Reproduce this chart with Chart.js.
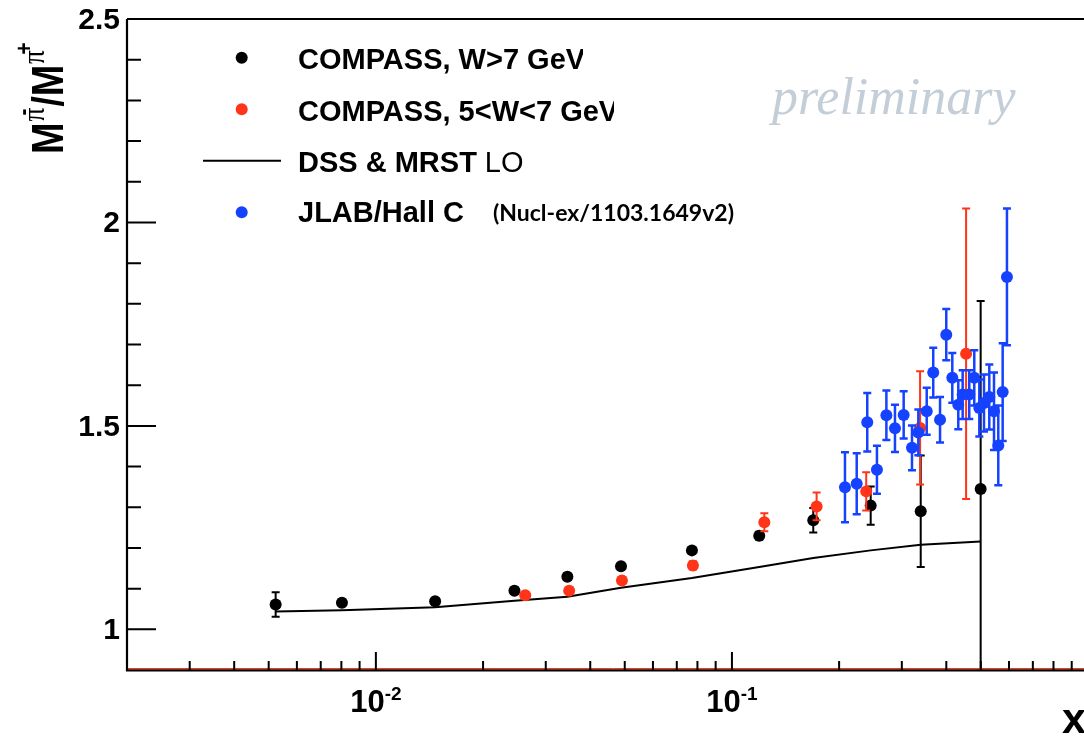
<!DOCTYPE html>
<html lang="en">
<head>
  <meta charset="UTF-8">
  <title>M pi- / M pi+ ratio</title>
  <style>
    html, body { margin: 0; padding: 0; background: #ffffff; overflow: hidden; }
    /* a bit wider than the window: the right edge of the frame is cut off like in the original */
    .quadro { position: relative; width: 1100px; height: 741px; }
  </style>
</head>
<body>
  <div class="quadro">
    <canvas id="grafico"></canvas>
  </div>

<script src="https://cdn.jsdelivr.net/npm/chart.js"></script>
<script>
  // COMPASS, W > 7 GeV
  const xBlack = [0.00523, 0.00803, 0.01467, 0.0245, 0.0345, 0.0488, 0.0772, 0.1193, 0.1692, 0.2453, 0.339, 0.4995];
  const yBlack = [1.061, 1.065, 1.069, 1.095, 1.129, 1.155, 1.194, 1.230, 1.268, 1.304, 1.290, 1.345];
  const eBlack = [0.030, 0.008, 0.008, 0.008, 0.008, 0.008, 0.008, 0.010, 0.030, 0.047, 0.137, 0.462];

  // COMPASS, 5 < W < 7 GeV
  const xRed = [0.02627, 0.0349, 0.0491, 0.0777, 0.1233, 0.1729, 0.2383, 0.3376, 0.4546];
  const yRed = [1.084, 1.095, 1.120, 1.157, 1.263, 1.302, 1.339, 1.495, 1.677];
  const eRed = [0.008, 0.008, 0.008, 0.010, 0.022, 0.034, 0.047, 0.139, 0.357];

  // JLAB / Hall C
  const xBlue = [0.2077, 0.2241, 0.2399, 0.2554, 0.2715, 0.2870, 0.3036, 0.3204, 0.3338, 0.3524, 0.3676, 0.3841, 0.3999,
                 0.4158, 0.4322, 0.4446, 0.4640, 0.4793, 0.4952, 0.5104, 0.5282, 0.5445, 0.5598, 0.5759, 0.5921];
  const yBlue = [1.349, 1.358, 1.509, 1.392, 1.526, 1.494, 1.527, 1.446, 1.484, 1.536, 1.631, 1.515, 1.724,
                 1.618, 1.552, 1.577, 1.577, 1.618, 1.544, 1.556, 1.571, 1.536, 1.452, 1.583, 1.866];
  const eBlue = [0.086, 0.075, 0.072, 0.059, 0.061, 0.058, 0.058, 0.055, 0.056, 0.058, 0.061, 0.056, 0.063,
                 0.061, 0.060, 0.060, 0.060, 0.068, 0.070, 0.070, 0.080, 0.095, 0.098, 0.120, 0.168];

  // DSS & MRST LO curve
  const xCurve = [0.00523, 0.00803, 0.01467, 0.0245, 0.0345, 0.0488, 0.0772, 0.1193, 0.1692, 0.2453, 0.339, 0.4995];
  const yCurve = [1.044, 1.047, 1.054, 1.070, 1.080, 1.102, 1.126, 1.153, 1.175, 1.194, 1.208, 1.216];

  // eixos
  const yMajor = [1, 1.5, 2, 2.5];
  const yMajorLabels = ['1', '1.5', '2', '2.5'];
  const xMajor = [0.01, 0.1];
  const xMajorExp = ['-2', '-1'];

  const legendLabels = ['COMPASS, W>7 GeV', 'COMPASS, 5<W<7 GeV', 'DSS & MRST', 'JLAB/Hall C'];

  const corPreto = '#000000';
  const corVermelho = '#ff3419';
  const corAzul = '#1442ff';

  function pontos(xs, ys) {
    return xs.map((x, i) => ({ x: x, y: ys[i] }));
  }

  // barras de erro desenhadas antes dos pontos de cada dataset
  const errorBars = {
    id: 'errorBars',
    beforeDatasetDraw(chart, args) {
      const ds = chart.data.datasets[args.index];
      if (!ds.errY) return;
      const ctx = chart.ctx;
      const xs = chart.scales.x, ys = chart.scales.y;
      const area = chart.chartArea;
      ctx.save();
      ctx.beginPath();
      ctx.rect(area.left, area.top, area.right - area.left, area.bottom - area.top);
      ctx.clip();
      ctx.strokeStyle = ds.backgroundColor;
      ctx.lineWidth = ds.errWidth || 2;
      ds.data.forEach((p, i) => {
        const e = ds.errY[i];
        const px = xs.getPixelForValue(p.x);
        const top = ys.getPixelForValue(p.y + e);
        const bot = ys.getPixelForValue(p.y - e);
        ctx.beginPath();
        ctx.moveTo(px, top); ctx.lineTo(px, bot);
        ctx.moveTo(px - 4, top); ctx.lineTo(px + 4, top);
        ctx.moveTo(px - 4, bot); ctx.lineTo(px + 4, bot);
        ctx.stroke();
      });
      ctx.restore();
    }
  };

  // moldura, ticks para dentro, rotulos, legenda e textos (estilo ROOT)
  const moldura = {
    id: 'moldura',
    afterDraw(chart) {
      const ctx = chart.ctx;
      const xs = chart.scales.x, ys = chart.scales.y;
      const a = chart.chartArea;
      const W = chart.width;
      ctx.save();

      // linhas do quadro
      ctx.strokeStyle = '#000';
      ctx.lineWidth = 2;
      ctx.beginPath();
      ctx.moveTo(a.left, a.top); ctx.lineTo(W, a.top);
      ctx.stroke();
      ctx.strokeStyle = corVermelho;
      ctx.lineWidth = 1;
      ctx.beginPath();
      ctx.moveTo(a.left, a.bottom - 1.5); ctx.lineTo(W, a.bottom - 1.5);
      ctx.stroke();
      ctx.strokeStyle = '#000';
      ctx.lineWidth = 2.2;
      ctx.beginPath();
      ctx.moveTo(a.left, a.bottom + 0.3); ctx.lineTo(W, a.bottom + 0.3);
      ctx.moveTo(a.left, a.top); ctx.lineTo(a.left, a.bottom + 1.4);
      ctx.stroke();

      // ticks eixo y
      ctx.lineWidth = 2;
      ctx.beginPath();
      for (let k = 10; k <= 24; k++) {
        const py = ys.getPixelForValue(k / 10);
        const len = (k % 5 === 0) ? 29 : 14;
        ctx.moveTo(a.left, py); ctx.lineTo(a.left + len, py);
      }
      // ticks eixo x (log)
      for (let d = -3; d <= 0; d++) {
        for (let m = 1; m <= 9; m++) {
          const v = m * Math.pow(10, d);
          if (v <= 0.002 || v > 1.0001) continue;
          const px = xs.getPixelForValue(v);
          const len = (m === 1) ? 18 : 9;
          ctx.moveTo(px, a.bottom); ctx.lineTo(px, a.bottom - len);
        }
      }
      ctx.stroke();

      // rotulos y
      ctx.fillStyle = '#000';
      ctx.font = 'bold 30px "Liberation Sans", Arial, sans-serif';
      ctx.textAlign = 'right';
      ctx.textBaseline = 'middle';
      yMajor.forEach((v, i) => {
        ctx.fillText(yMajorLabels[i], 120, ys.getPixelForValue(v) + 1.5);
      });

      // rotulos x: 10^n
      ctx.textAlign = 'left';
      ctx.textBaseline = 'alphabetic';
      xMajor.forEach((v, i) => {
        const px = xs.getPixelForValue(v);
        ctx.font = 'bold 31px "Liberation Sans", Arial, sans-serif';
        const w10 = ctx.measureText('10').width;
        ctx.font = 'bold 19px "Liberation Sans", Arial, sans-serif';
        const wExp = ctx.measureText(xMajorExp[i]).width;
        const x0 = px - (w10 + wExp) / 2;
        ctx.font = 'bold 31px "Liberation Sans", Arial, sans-serif';
        ctx.fillText('10', x0, 712);
        ctx.font = 'bold 19px "Liberation Sans", Arial, sans-serif';
        ctx.fillText(xMajorExp[i], x0 + w10, 700);
      });

      // titulo eixo x
      ctx.font = 'bold 43px "Liberation Sans", Arial, sans-serif';
      ctx.fillText('x', 1062, 733);

      // titulo eixo y: M^{pi-}/M^{pi+}
      ctx.save();
      ctx.translate(63, 154);
      ctx.rotate(-Math.PI / 2);
      ctx.scale(0.86, 1);
      let u = 0;
      const pedaco = (txt, font, dy) => {
        ctx.font = font;
        ctx.fillText(txt, u, dy);
        u += ctx.measureText(txt).width;
      };
      const fM = 'bold 44px "Liberation Sans", Arial, sans-serif';
      const fPi = '32px "Liberation Serif", "DejaVu Serif", serif';
      const fSg = 'bold 24px "Liberation Sans", Arial, sans-serif';
      pedaco('M', fM, 0);
      u += 1;
      pedaco('\u03C0', fPi, -19);
      ctx.font = fSg;
      ctx.fillText('-', u - 9, -32);
      u += 1;
      pedaco('/', fM, 0);
      pedaco('M', fM, 0);
      u += 1;
      pedaco('\u03C0', fPi, -19);
      ctx.font = fSg;
      ctx.fillText('+', u - 5, -31);
      ctx.restore();

      // legenda
      const fLeg = 'bold 29px "Liberation Sans", Arial, sans-serif';
      const cores = [corPreto, corVermelho, null, corAzul];
      const linhasY = [57.7, 109.3, 160.7, 212.3];
      const base = [69.3, 121, 171.7, 221.7];
      const cortes = [583, 614, 2000, 2000];
      for (let i = 0; i < 4; i++) {
        if (cores[i]) {
          ctx.fillStyle = cores[i];
          ctx.beginPath();
          ctx.arc(241.7, linhasY[i], 6, 0, Math.PI * 2);
          ctx.fill();
        } else {
          ctx.strokeStyle = '#000';
          ctx.lineWidth = 2;
          ctx.beginPath();
          ctx.moveTo(203, linhasY[i]); ctx.lineTo(281, linhasY[i]);
          ctx.stroke();
        }
        ctx.save();
        ctx.beginPath();
        ctx.rect(290, linhasY[i] - 30, cortes[i] - 290, 60);
        ctx.clip();
        ctx.fillStyle = '#000';
        ctx.font = fLeg;
        ctx.fillText(legendLabels[i], 298, base[i]);
        ctx.restore();
      }
      ctx.fillStyle = '#000';
      ctx.font = fLeg;
      const fimDSS = 298 + ctx.measureText(legendLabels[2]).width;
      ctx.font = '29px "Liberation Sans", Arial, sans-serif';
      ctx.fillText('LO', fimDSS + 8, 171.7);
      ctx.font = 'bold 23px Lato, "Open Sans", sans-serif';
      ctx.fillText('(Nucl-ex/1103.1649v2)', 493, 221);

      // marca d'agua
      ctx.fillStyle = '#c3ced8';
      ctx.font = 'italic 52px "Liberation Serif", "DejaVu Serif", serif';
      ctx.fillText('preliminary', 772, 114);

      ctx.restore();
    }
  };

  new Chart(document.getElementById('grafico'), {
    type: 'scatter',
    data: {
      datasets: [
        {
          label: legendLabels[3],
          data: pontos(xBlue, yBlue),
          errY: eBlue,
          errWidth: 2.5,
          backgroundColor: corAzul,
          borderWidth: 0,
          pointRadius: 6,
          order: 0
        },
        {
          label: legendLabels[1],
          data: pontos(xRed, yRed),
          errY: eRed,
          errWidth: 2,
          backgroundColor: corVermelho,
          borderWidth: 0,
          pointRadius: 6,
          order: 1
        },
        {
          label: legendLabels[0],
          data: pontos(xBlack, yBlack),
          errY: eBlack,
          errWidth: 2,
          backgroundColor: corPreto,
          borderWidth: 0,
          pointRadius: 6,
          order: 2
        },
        {
          label: legendLabels[2],
          data: pontos(xCurve, yCurve),
          showLine: true,
          borderColor: '#000',
          borderWidth: 2,
          pointRadius: 0,
          tension: 0,
          order: 3
        }
      ]
    },
    options: {
      responsive: true,
      maintainAspectRatio: false,
      animation: false,
      events: [],
      layout: { padding: { left: 127, top: 19, right: 12, bottom: 71 } },
      scales: {
        x: { type: 'logarithmic', min: 0.002, max: 1, display: false },
        y: { type: 'linear', min: 0.9, max: 2.5, display: false }
      },
      plugins: {
        legend: { display: false },
        tooltip: { enabled: false }
      }
    },
    plugins: [errorBars, moldura]
  });
</script>
</body>
</html>
